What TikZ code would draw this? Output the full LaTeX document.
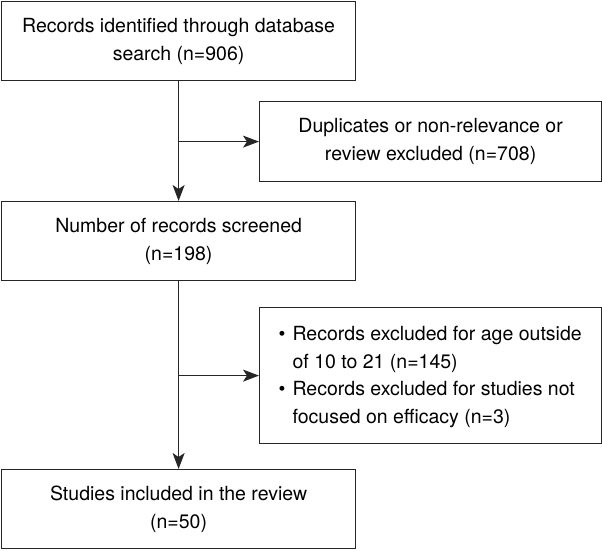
\documentclass[tikz,border=0pt]{standalone}
\usepackage{fontspec}
\setmainfont{TeX Gyre Heros}
\usepackage{tikz}
\usetikzlibrary{arrows.meta,calc}

\begin{document}
\begin{tikzpicture}[x=1pt,y=1pt,line width=1.2pt]
  \tikzstyle{record} = [draw=black!85,minimum width=354pt,minimum height=79pt,inner sep=0pt,align=center,anchor=north west,font=\fontsize{19.5}{28}\selectfont]
  \tikzstyle{excluded} = [record,minimum width=342pt]
  \tikzstyle{flow} = [draw=black!85,-{Stealth[length=16pt,width=12pt,inset=4pt]}]
  \newcommand{\bulletitem}{\makebox[14pt][l]{\textbullet}}
  %
  \useasboundingbox (0,0) rectangle (602,-550);
  % Main column.
  \node[record] (identified) at (1,-1) {Records identified through database\\search (n=906)};
  \node[record] (screened) at (1,-201) {Number of records screened\\(n=198)};
  \node[record] (included) at (1,-469) {Studies included in the review\\(n=50)};
  % Side boxes.
  \node[excluded,minimum height=80pt] (duplicates) at (259,-101) {Duplicates or non-relevance or\\review excluded (n=708)};
  \node[excluded,minimum height=136pt] (ineligible) at (259,-307) {};
  \node[anchor=base west,inner sep=0pt,align=left,font=\fontsize{19.5}{27.5}\selectfont] (reasons) at (278,-423)
    {\bulletitem Records excluded for age outside\\\hspace*{14pt}of 10 to 21 (n=145)\\
     \bulletitem Records excluded for studies not\\\hspace*{14pt}focused on efficacy (n=3)};
  % Connectors.
  \draw[flow] (identified) -- (screened);
  \draw[flow] (identified.south |- duplicates.west) -- (duplicates);
  \draw[flow] (screened) -- (included);
  \draw[flow] (screened.south |- ineligible.west) -- (ineligible);
\end{tikzpicture}
\end{document}
